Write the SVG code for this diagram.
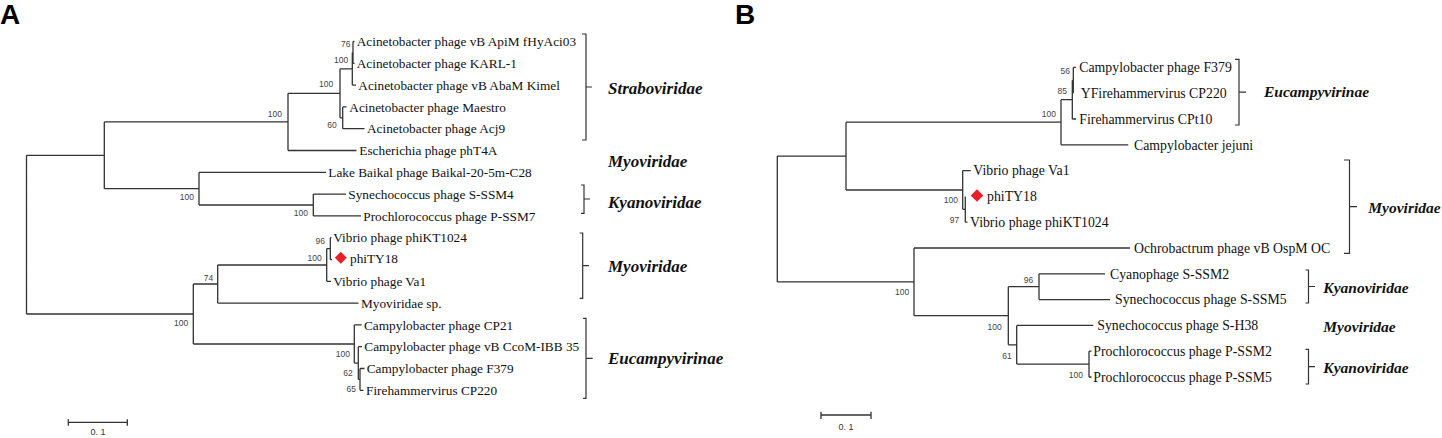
<svg xmlns="http://www.w3.org/2000/svg" width="1442" height="438" viewBox="0 0 1442 438">
<style>
.e{fill:none;stroke:#333;stroke-width:1.3}
.k{fill:none;stroke:#333;stroke-width:1.2}
.t{font-family:"Liberation Serif","Times New Roman",serif;fill:#111}
.ta{font-size:13.3px}
.tb{font-size:13.8px}
.b{font-family:"Liberation Sans",Arial,sans-serif;font-size:8.5px;fill:#444;text-anchor:end}
.f{font-family:"Liberation Serif","Times New Roman",serif;font-weight:bold;font-style:italic;fill:#111}
.fa{font-size:17px}
.fb{font-size:15.5px}
.p{font-family:"Liberation Sans",Arial,sans-serif;font-weight:bold;font-size:28px;fill:#000}
.s{font-family:"Liberation Sans",Arial,sans-serif;font-size:9px;fill:#333;text-anchor:middle}
.d{fill:#e8202a}
</style>
<rect width="1442" height="438" fill="#fff"/>
<text class="p" x="0" y="24">A</text>
<text class="p" x="735" y="24">B</text>

<g id="connectors">
<path class="e" d="M26.5 155.3V314M26.5 155.3H104.3M26.5 314H193.3
M104.3 121.9V188.7M104.3 121.9H288M104.3 188.7H199
M288 93.3V150.5M288 93.3H340M288 150.5H356.5
M340 68.8V117.8M340 68.8H352.3M340 117.8H342.7
M352.3 52.4V85.1M352.3 85.1H356M352.3 52.4H353
M353 41.5V63.3M353 41.5H354.5M353 63.3H354.5
M342.7 106.9V128.7M342.7 106.9H346.5M342.7 128.7H364.5
M199 172.3V205M199 172.3H326M199 205H313.3
M313.3 194.1V215.9M313.3 194.1H346M313.3 215.9H361
M193.3 284V344M193.3 284H217.7M193.3 344H354.3
M217.7 265V303.1M217.7 265H326.7M217.7 303.1H358.5
M326.7 248.6V281.3M326.7 248.6H330.3M326.7 281.3H331
M330.3 237.7V259.5M330.3 237.7H331.5M330.3 259.5H332
M354.3 324.9V363.1M354.3 324.9H361.7M354.3 363.1H358.3
M358.3 346.7V379.4M358.3 346.7H362M358.3 379.4H360
M360 368.5V390.3M360 368.5H364.5M360 390.3H363.5"/>
<path class="e" d="M777.3 156.1V281.9M777.3 156.1H846M777.3 281.9H914
M846 122.2V190M846 122.2H1061M846 190H962.7
M1061 99.7V144.8M1061 99.7H1072.3M1061 144.8H1128.3
M1072.3 80.3V119M1072.3 80.3H1073.3M1072.3 119H1076
M1073.3 67.4V93.2M1073.3 67.4H1076
M962.7 170.6V209.3M962.7 170.6H970.7M962.7 209.3H965.3
M965.3 196.4V222.2M965.3 222.2H967.5
M914 248V315.7M914 248H1130M914 315.7H1008.3
M1008.3 286.7V344.8M1008.3 286.7H1039M1008.3 344.8H1016.7
M1039 273.8V299.6M1039 273.8H1105M1039 299.6H1110
M1016.7 325.4V364.1M1016.7 325.4H1093.3M1016.7 364.1H1089
M1089 351.2V377M1089 351.2H1091.5M1089 377H1091.5"/>
</g>

<g id="bootstrap-A">
<text class="b" x="350.5" y="47">76</text>
<text class="b" x="348.3" y="63">100</text>
<text class="b" x="333.3" y="87.3">100</text>
<text class="b" x="336.7" y="128.3">60</text>
<text class="b" x="282" y="117">100</text>
<text class="b" x="194" y="200">100</text>
<text class="b" x="308" y="216">100</text>
<text class="b" x="325" y="244">96</text>
<text class="b" x="321.7" y="260.7">100</text>
<text class="b" x="213.3" y="280.7">74</text>
<text class="b" x="188.3" y="326">100</text>
<text class="b" x="350" y="356.7">100</text>
<text class="b" x="352.7" y="376">62</text>
<text class="b" x="356" y="391.7">65</text>
</g>
<g id="bootstrap-B">
<text class="b" x="1070" y="73.5">56</text>
<text class="b" x="1067" y="94">85</text>
<text class="b" x="1056" y="117.3">100</text>
<text class="b" x="958" y="203.3">100</text>
<text class="b" x="959.3" y="222.7">97</text>
<text class="b" x="909.3" y="295">100</text>
<text class="b" x="1033.3" y="283">96</text>
<text class="b" x="1001.7" y="329.5">100</text>
<text class="b" x="1011.7" y="359.3">61</text>
<text class="b" x="1083" y="378">100</text>
</g>

<g id="leaf-A1"><text class="t ta" x="356.7" y="46.1">Acinetobacter phage vB ApiM fHyAci03</text></g>
<g id="leaf-A2"><text class="t ta" x="356.7" y="67.9">Acinetobacter phage KARL-1</text></g>
<g id="leaf-A3"><text class="t ta" x="358.3" y="89.7">Acinetobacter phage vB AbaM Kimel</text></g>
<g id="leaf-A4"><text class="t ta" x="349.3" y="111.5">Acinetobacter phage Maestro</text></g>
<g id="leaf-A5"><text class="t ta" x="367" y="133.3">Acinetobacter phage Acj9</text></g>
<g id="leaf-A6"><text class="t ta" x="359.3" y="155.1">Escherichia phage phT4A</text></g>
<g id="leaf-A7"><text class="t ta" x="328.3" y="176.9">Lake Baikal phage Baikal-20-5m-C28</text></g>
<g id="leaf-A8"><text class="t ta" x="348.3" y="198.7">Synechococcus phage S-SSM4</text></g>
<g id="leaf-A9"><text class="t ta" x="363.3" y="220.5">Prochlorococcus phage P-SSM7</text></g>
<g id="leaf-A10"><text class="t ta" x="333.3" y="242.3">Vibrio phage phiKT1024</text></g>
<g id="leaf-A11"><path class="d" d="M340.8 251.7L346.8 257.7L340.8 263.7L334.8 257.7Z"/><text class="t ta" x="350" y="263.1">phiTY18</text></g>
<g id="leaf-A12"><text class="t ta" x="333.3" y="285.9">Vibrio phage Va1</text></g>
<g id="leaf-A13"><text class="t ta" x="361" y="307.7">Myoviridae sp.</text></g>
<g id="leaf-A14"><text class="t ta" x="364" y="329.5">Campylobacter phage CP21</text></g>
<g id="leaf-A15"><text class="t ta" x="364.3" y="351.3">Campylobacter phage vB CcoM-IBB 35</text></g>
<g id="leaf-A16"><text class="t ta" x="366.7" y="373.1">Campylobacter phage F379</text></g>
<g id="leaf-A17"><text class="t ta" x="366" y="394.9">Firehammervirus CP220</text></g>

<g id="leaf-B1"><text class="t tb" x="1079.3" y="72.2">Campylobacter phage F379</text></g>
<g id="leaf-B2"><text class="t tb" x="1080.7" y="98">YFirehammervirus CP220</text></g>
<g id="leaf-B3"><text class="t tb" x="1079.3" y="123.8">Firehammervirus CPt10</text></g>
<g id="leaf-B4"><text class="t tb" x="1134" y="149.6">Campylobacter jejuni</text></g>
<g id="leaf-B5"><text class="t tb" x="973.3" y="175.4">Vibrio phage Va1</text></g>
<g id="leaf-B6"><path class="d" d="M977 189.2L983.3 195.5L977 201.8L970.7 195.5Z"/><text class="t tb" x="987" y="201.2">phiTY18</text></g>
<g id="leaf-B7"><text class="t tb" x="970" y="227">Vibrio phage phiKT1024</text></g>
<g id="leaf-B8"><text class="t tb" x="1134" y="252.8">Ochrobactrum phage vB OspM OC</text></g>
<g id="leaf-B9"><text class="t tb" x="1110" y="278.6">Cyanophage S-SSM2</text></g>
<g id="leaf-B10"><text class="t tb" x="1115" y="304.4">Synechococcus phage S-SSM5</text></g>
<g id="leaf-B11"><text class="t tb" x="1097.3" y="330.2">Synechococcus phage S-H38</text></g>
<g id="leaf-B12"><text class="t tb" x="1093.3" y="356">Prochlorococcus phage P-SSM2</text></g>
<g id="leaf-B13"><text class="t tb" x="1093.3" y="381.8">Prochlorococcus phage P-SSM5</text></g>

<g id="group-A-straboviridae"><path class="k" d="M582 34H586V140H582M586 87H592"/><text class="f fa" x="608" y="94">Straboviridae</text></g>
<g id="group-A-myoviridae1"><text class="f fa" x="608" y="167">Myoviridae</text></g>
<g id="group-A-kyanoviridae"><path class="k" d="M581 185H584V213.3H581M584 199H590"/><text class="f fa" x="608" y="207.5">Kyanoviridae</text></g>
<g id="group-A-myoviridae2"><path class="k" d="M579.7 233H582.7V298.3H579.7M582.7 265.7H589"/><text class="f fa" x="608" y="272">Myoviridae</text></g>
<g id="group-A-eucampyvirinae"><path class="k" d="M583 318.3H586V398.3H583M586 358.3H592.7"/><text class="f fa" x="608" y="364">Eucampyvirinae</text></g>

<g id="group-B-eucampyvirinae"><path class="k" d="M1235 59.3H1239V125H1235M1239 92.2H1246"/><text class="f fb" x="1264" y="97.3">Eucampyvirinae</text></g>
<g id="group-B-myoviridae1"><path class="k" d="M1344 160H1349.5V253.3H1344M1349.5 206.7H1357"/><text class="f fb" x="1368.3" y="212.7">Myoviridae</text></g>
<g id="group-B-kyanoviridae1"><path class="k" d="M1305.5 270H1308.5V303H1305.5M1308.5 286.5H1315"/><text class="f fb" x="1323.3" y="292.7">Kyanoviridae</text></g>
<g id="group-B-myoviridae2"><text class="f fb" x="1323.3" y="331.7">Myoviridae</text></g>
<g id="group-B-kyanoviridae2"><path class="k" d="M1305.5 349.3H1308.5V384H1305.5M1308.5 366.7H1315"/><text class="f fb" x="1323.3" y="372.7">Kyanoviridae</text></g>

<g id="scale-A"><path class="e" d="M68.3 422.3H127.3M68.3 419.3V425.7M127.3 419.3V425.7"/><text class="s" x="98" y="435">0. 1</text></g>
<g id="scale-B"><path class="e" d="M821 415H871M821 411.7V419M871 411.7V419"/><text class="s" x="846" y="430">0. 1</text></g>
</svg>
